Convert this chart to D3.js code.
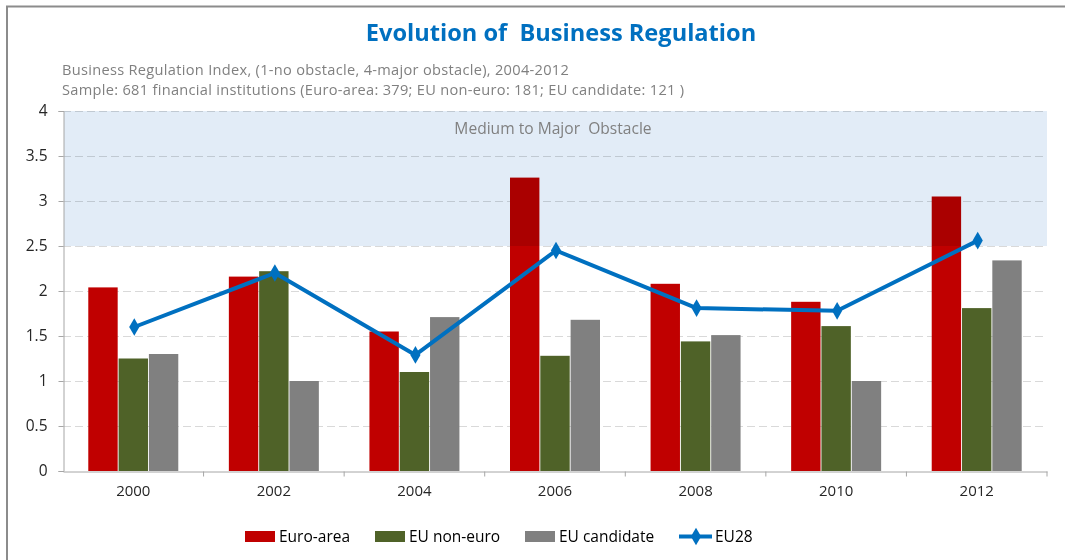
<!DOCTYPE html>
<html>
<head>
<meta charset="utf-8">
<script src="https://cdn.jsdelivr.net/npm/d3@7"></script>
<style>
  html, body { margin: 0; padding: 0; background: #fff; }
  svg { display: block; }
</style>
</head>
<body>
<svg id="chart" width="1065" height="560"></svg>
<script>
// Survey years and series values (index 1 = no obstacle, 4 = major obstacle)
const years = ["2000", "2002", "2004", "2006", "2008", "2010", "2012"];
const euroArea = [2.04, 2.16, 1.55, 3.26, 2.08, 1.88, 3.05];
const euNonEuro = [1.25, 2.22, 1.10, 1.28, 1.44, 1.61, 1.81];
const euCandidate = [1.30, 1.00, 1.71, 1.68, 1.51, 1.00, 2.34];
const eu28 = [1.60, 2.20, 1.29, 2.45, 1.81, 1.78, 2.56];
const yTicks = [0, 0.5, 1, 1.5, 2, 2.5, 3, 3.5, 4];
const bandRange = [2.5, 4];

const barSeries = [
  { name: "Euro-area", values: euroArea, color: "#c00000" },
  { name: "EU non-euro", values: euNonEuro, color: "#4f6228" },
  { name: "EU candidate", values: euCandidate, color: "#808080" }
];
const lineSeries = { name: "EU28", values: eu28, color: "#0070c0" };

const svg = d3.select("#chart");
const font = "'Open Sans', sans-serif";

const plot = { left: 63, right: 1047, top: 111, bottom: 471 };

const x = d3.scaleBand().domain(years).range([plot.left, plot.right]);
const groupPad = (x.bandwidth() - 90) / 2;
const xInner = d3.scaleBand().domain(barSeries.map(s => s.name))
  .range([groupPad, groupPad + 90]).paddingInner(0.03);
const y = d3.scaleLinear().domain([0, 4]).range([plot.bottom, plot.top]);

// outer frame
svg.append("path")
  .attr("d", "M7,560 V6.5 H1065")
  .attr("fill", "none").attr("stroke", "#8c8c8c").attr("stroke-width", 2);

// title and subtitles
svg.append("text").attr("x", 561).attr("y", 41).attr("text-anchor", "middle")
  .attr("font-family", font).attr("font-weight", "bold").attr("font-size", 23.6)
  .attr("fill", "#0070c0").attr("xml:space", "preserve")
  .text("Evolution of  Business Regulation");
const subtitles = [
  "Business Regulation Index, (1-no obstacle, 4-major obstacle), 2004-2012",
  "Sample: 681 financial institutions (Euro-area: 379; EU non-euro: 181; EU candidate: 121 )"
];
svg.append("g").selectAll("text").data(subtitles).join("text")
  .attr("x", 62).attr("y", (d, i) => 75 + i * 19.5)
  .attr("font-family", font).attr("font-size", 14.6).attr("letter-spacing", 0.3)
  .attr("fill", "#808080")
  .text(d => d);

// horizontal dashed gridlines
svg.append("g").selectAll("line").data(yTicks.filter(d => d > 0)).join("line")
  .attr("x1", plot.left).attr("x2", plot.right)
  .attr("y1", d => y(d) + 0.5).attr("y2", d => y(d) + 0.5)
  .attr("stroke", "#d9d9d9").attr("stroke-dasharray", "8,4").attr("stroke-width", 1);

// bars
const groups = svg.append("g").selectAll("g").data(years).join("g")
  .attr("transform", d => `translate(${x(d)},0)`);
barSeries.forEach(s => {
  groups.append("rect")
    .attr("x", xInner(s.name))
    .attr("width", xInner.bandwidth())
    .attr("y", (d, i) => y(s.values[i]))
    .attr("height", (d, i) => y(0) - y(s.values[i]))
    .attr("fill", s.color);
});

// shaded "medium to major obstacle" band, multiplied over the bars
svg.append("rect")
  .attr("x", plot.left + 1).attr("width", plot.right - plot.left - 1)
  .attr("y", y(bandRange[1])).attr("height", y(bandRange[0]) - y(bandRange[1]))
  .attr("fill", "#e2ecf7").style("mix-blend-mode", "multiply");
svg.append("text").attr("x", 553).attr("y", 134).attr("text-anchor", "middle")
  .attr("font-family", font).attr("font-size", 15.6).attr("fill", "#808080")
  .attr("xml:space", "preserve")
  .text("Medium to Major  Obstacle");

// axes
const yAxis = d3.axisLeft(y).tickValues(yTicks).tickSize(5).tickFormat(d3.format("~g"));
const gy = svg.append("g").attr("transform", `translate(${plot.left + 0.5},0)`).call(yAxis);
gy.select(".domain").attr("stroke", "#a6a6a6");
gy.selectAll(".tick line").attr("stroke", "#a6a6a6");
gy.selectAll(".tick text").attr("font-family", font).attr("font-size", 15.5)
  .attr("fill", "#262626").attr("x", -16);

const gx = svg.append("g").attr("transform", `translate(0,${plot.bottom + 0.5})`)
  .call(d3.axisBottom(x).tickSize(0).tickPadding(14));
gx.select(".domain").attr("stroke", "#a6a6a6");
gx.selectAll(".tick text").attr("font-family", font).attr("font-size", 15).attr("fill", "#262626");
// category boundary ticks
const bounds = years.map(d => x(d)).concat([plot.right]).slice(1);
gx.append("g").selectAll("line").data(bounds).join("line")
  .attr("x1", d => d).attr("x2", d => d).attr("y1", 0).attr("y2", 5)
  .attr("stroke", "#a6a6a6");

// EU28 line with diamond markers
const cx = d => x(d) + x.bandwidth() / 2 + 1;
const line = d3.line().x((d, i) => cx(years[i])).y(d => y(d));
svg.append("path").datum(lineSeries.values).attr("d", line)
  .attr("fill", "none").attr("stroke", lineSeries.color).attr("stroke-width", 4)
  .attr("stroke-linejoin", "round");
const diamond = d3.symbol().type(d3.symbolDiamond).size(90);
svg.append("g").selectAll("path").data(lineSeries.values).join("path")
  .attr("d", diamond)
  .attr("transform", (d, i) => `translate(${cx(years[i])},${y(d)})`)
  .attr("fill", lineSeries.color);

// legend
const legendY = 536;
const legendItems = [
  { s: barSeries[0], x: 245 },
  { s: barSeries[1], x: 375 },
  { s: barSeries[2], x: 525 }
];
legendItems.forEach(it => {
  svg.append("rect").attr("x", it.x).attr("y", legendY - 5).attr("width", 30).attr("height", 11)
    .attr("fill", it.s.color);
  svg.append("text").attr("x", it.x + 34).attr("y", legendY + 6)
    .attr("font-family", font).attr("font-size", 15.5).attr("fill", "#000")
    .text(it.s.name);
});
svg.append("line").attr("x1", 679).attr("x2", 712).attr("y1", legendY + 0.5).attr("y2", legendY + 0.5)
  .attr("stroke", lineSeries.color).attr("stroke-width", 4);
svg.append("path").attr("d", diamond).attr("transform", `translate(696,${legendY + 0.5})`)
  .attr("fill", lineSeries.color);
svg.append("text").attr("x", 715).attr("y", legendY + 6)
  .attr("font-family", font).attr("font-size", 15.5).attr("fill", "#000")
  .text(lineSeries.name);
</script>
</body>
</html>
